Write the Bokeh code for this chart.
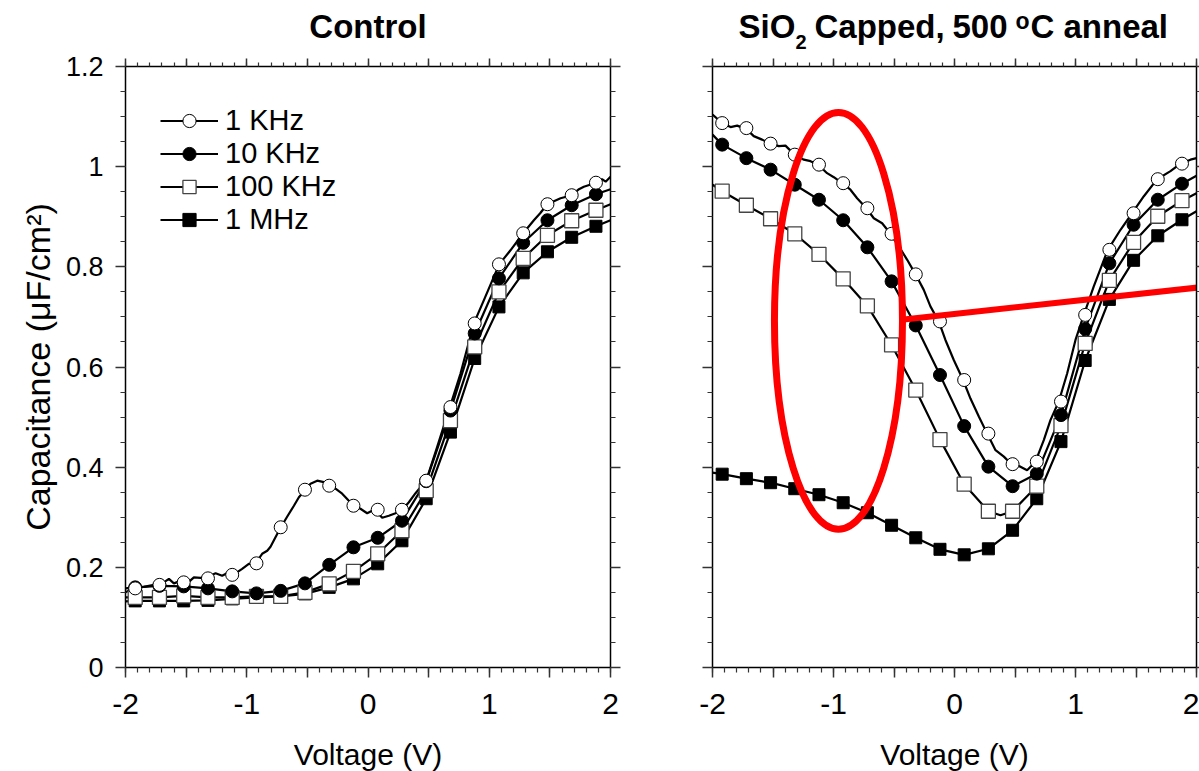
from bokeh.plotting import figure
from bokeh.layouts import row, column
from bokeh.models import LinearAxis, FixedTicker, Range1d, Legend, LegendItem
from bokeh.core.properties import value
from bokeh.embed import file_html
from bokeh.resources import INLINE

FONT = "Liberation Sans"

# ---------------- data ----------------
marker_v = [-1.92, -1.72, -1.52, -1.32, -1.12, -0.92, -0.72, -0.52, -0.32, -0.12,
            0.08, 0.28, 0.48, 0.68, 0.88, 1.08, 1.28, 1.48, 1.68, 1.88]

# Control panel, marker values
ctrl_1k = [0.158, 0.165, 0.170, 0.178, 0.185, 0.208, 0.280, 0.355, 0.363, 0.323,
           0.315, 0.315, 0.373, 0.520, 0.687, 0.805, 0.867, 0.925, 0.943, 0.968]
ctrl_10k = [0.160, 0.163, 0.162, 0.158, 0.152, 0.148, 0.153, 0.168, 0.205, 0.240,
            0.259, 0.293, 0.372, 0.513, 0.667, 0.777, 0.848, 0.893, 0.923, 0.945]
ctrl_100k = [0.140, 0.140, 0.143, 0.140, 0.140, 0.142, 0.142, 0.150, 0.167, 0.192,
             0.227, 0.273, 0.353, 0.493, 0.640, 0.750, 0.817, 0.863, 0.892, 0.913]
ctrl_1m = [0.133, 0.133, 0.133, 0.134, 0.137, 0.140, 0.142, 0.147, 0.160, 0.177,
           0.207, 0.253, 0.337, 0.470, 0.617, 0.720, 0.788, 0.830, 0.859, 0.881]

# Control panel, traced 1 KHz curve (noisy)
ctrl_1k_line_v = [-2.0, -1.931, -1.849, -1.766, -1.725, -1.684, -1.642, -1.601, -1.546, -1.491,
                  -1.436, -1.381, -1.321, -1.257, -1.203, -1.148, -1.093, -1.038, -0.983, -0.928,
                  -0.873, -0.831, -0.804, -0.763, -0.721, -0.667, -0.611, -0.570, -0.524, -0.474,
                  -0.419, -0.364, -0.320, -0.268, -0.213, -0.158, -0.117, -0.062, -0.007, 0.034,
                  0.076, 0.117, 0.172, 0.227, 0.277, 0.337, 0.392, 0.433, 0.483, 0.57,
                  0.675, 0.763, 0.873, 0.955, 1.082, 1.175, 1.28, 1.368, 1.42, 1.478,
                  1.588, 1.681, 1.74, 1.78, 1.882, 1.93, 1.96, 2.0]
ctrl_1k_line_c = [0.150, 0.160, 0.161, 0.165, 0.167, 0.170, 0.177, 0.168, 0.173, 0.168,
                  0.180, 0.179, 0.181, 0.188, 0.183, 0.190, 0.188, 0.197, 0.207, 0.208,
                  0.227, 0.233, 0.241, 0.260, 0.279, 0.301, 0.323, 0.340, 0.353, 0.367,
                  0.373, 0.370, 0.367, 0.357, 0.347, 0.333, 0.323, 0.317, 0.308, 0.313,
                  0.310, 0.299, 0.303, 0.308, 0.313, 0.330, 0.348, 0.360, 0.375, 0.440,
                  0.520, 0.587, 0.687, 0.733, 0.805, 0.833, 0.867, 0.893, 0.907, 0.925,
                  0.937, 0.943, 0.955, 0.960, 0.968, 0.975, 0.970, 0.980]
# Control panel, smooth curves: end values at -2 V and +2 V
ctrl_ends_10k = [0.158, 0.955]
ctrl_ends_100k = [0.140, 0.925]
ctrl_ends_1m = [0.132, 0.893]

# SiO2 capped panel, marker values
cap_1k = [1.087, 1.077, 1.046, 1.024, 1.004, 0.967, 0.917, 0.866, 0.785, 0.691,
          0.574, 0.467, 0.406, 0.411, 0.531, 0.704, 0.834, 0.907, 0.975, 1.006]
cap_10k = [1.044, 1.017, 0.994, 0.964, 0.934, 0.893, 0.839, 0.771, 0.683, 0.584,
           0.482, 0.401, 0.362, 0.387, 0.504, 0.676, 0.807, 0.884, 0.934, 0.966]
cap_100k = [0.951, 0.923, 0.896, 0.866, 0.825, 0.776, 0.722, 0.644, 0.554, 0.455,
            0.366, 0.312, 0.312, 0.362, 0.483, 0.647, 0.773, 0.849, 0.901, 0.932]
cap_1m = [0.386, 0.377, 0.369, 0.357, 0.345, 0.329, 0.309, 0.284, 0.259, 0.236,
          0.225, 0.237, 0.274, 0.337, 0.451, 0.613, 0.735, 0.813, 0.862, 0.894]

cap_1k_line_v = [-2.0, -1.92, -1.851, -1.796, -1.719, -1.659, -1.59, -1.521, -1.452, -1.397,
                 -1.323, -1.245, -1.19, -1.127, -1.053, -0.997, -0.929, -0.86, -0.805, -0.728,
                 -0.667, -0.598, -0.529, -0.46, -0.391, -0.322, -0.254, -0.199, -0.13, -0.075,
                 -0.006, 0.071, 0.132, 0.201, 0.27, 0.339, 0.408, 0.471, 0.545, 0.6,
                 0.669, 0.738, 0.793, 0.862, 0.931, 1.0, 1.069, 1.151, 1.267, 1.372,
                 1.468, 1.565, 1.675, 1.785, 1.868, 1.95, 2.0]
cap_1k_line_c = [1.104, 1.087, 1.079, 1.082, 1.075, 1.061, 1.054, 1.046, 1.041, 1.042,
                 1.024, 1.014, 1.011, 1.004, 0.987, 0.979, 0.967, 0.954, 0.937, 0.917,
                 0.897, 0.887, 0.866, 0.841, 0.814, 0.785, 0.754, 0.721, 0.691, 0.654,
                 0.614, 0.574, 0.537, 0.501, 0.467, 0.434, 0.421, 0.406, 0.401, 0.394,
                 0.411, 0.454, 0.494, 0.531, 0.587, 0.654, 0.704, 0.761, 0.834, 0.874,
                 0.907, 0.941, 0.975, 0.991, 1.006, 1.014, 1.017]
cap_ends_10k = [1.064, 0.982]
cap_ends_100k = [0.964, 0.947]
cap_ends_1m = [0.389, 0.911]
cap_100k_min = [0.38, 0.304]

series_labels = ["1 KHz", "10 KHz", "100 KHz", "1 MHz"]

x_major = [-2.0, -1.5, -1.0, -0.5, 0.0, 0.5, 1.0, 1.5, 2.0]
x_tick_text = ["-2", "", "-1", "", "0", "", "1", "", "2"]
y_major = [0.0, 0.2, 0.4, 0.6, 0.8, 1.0, 1.2]
y_tick_text = ["0", "0.2", "0.4", "0.6", "0.8", "1", "1.2"]
x_minor = [round(-2 + 0.1 * i, 1) for i in range(41)]
y_minor = [round(0.05 * i, 2) for i in range(25)]

x_title = "Voltage (V)"
y_title = "Capacitance (\u03bcF/cm\u00b2)"
left_title = "Control"
# right title pieces: (text, kind) with kind main / sub / sup
right_title = [("SiO", "main"), ("2", "sub"), ("Capped,", "main"), ("500", "main"),
               ("o", "sup"), ("C", "main"), ("anneal", "main")]

# annotation (red) in right panel data coordinates
ellipse_center = (-0.959, 0.692)
ellipse_size = (1.058, 0.832)
pointer_x = [-0.419, 2.1]
pointer_y = [0.695, 0.761]

# ---------------- layout ----------------
W = 1199
TITLE_H = 52          # strip with panel titles
XLAB_H = 33           # strip with x-axis titles
PANEL_H = 771 - TITLE_H - XLAB_H
TOP, BOTTOM = 14, 71  # frame: page y 66 .. 667


def style_axis(ax, ticks, minor, texts, show_labels, tick_out=10, minor_out=5):
    ax.ticker = FixedTicker(ticks=ticks, minor_ticks=minor)
    ax.axis_line_color = "black"
    ax.axis_line_width = 1.5
    ax.major_tick_line_color = "#333333"
    ax.major_tick_line_width = 1.5
    ax.minor_tick_line_color = "#333333"
    ax.minor_tick_line_width = 1.2
    ax.major_tick_out = tick_out
    ax.major_tick_in = 0
    ax.minor_tick_out = minor_out
    ax.minor_tick_in = 0
    ax.major_label_text_font = FONT
    ax.major_label_text_color = "black"
    ax.axis_label_text_font = FONT
    ax.axis_label_text_font_style = "normal"
    ax.axis_label_text_color = "black"
    if show_labels:
        ax.major_label_overrides = {t: s for t, s in zip(ticks, texts)}
    else:
        ax.major_label_overrides = {t: "" for t in ticks}
        ax.major_label_text_font_size = "0px"
        ax.major_label_standoff = 0


def make_fig(width, left, right, show_ylabels, right_tick):
    p = figure(width=width, height=PANEL_H, x_range=Range1d(-2, 2), y_range=Range1d(0, 1.2),
               min_border_left=left, min_border_right=right,
               min_border_top=TOP, min_border_bottom=BOTTOM, title=None,
               output_backend="svg", toolbar_location=None)
    p.grid.visible = False
    p.outline_line_color = None
    p.background_fill_color = "white"
    p.border_fill_color = "white"
    bx = p.below[0]
    style_axis(bx, x_major, x_minor, x_tick_text, True)
    bx.major_label_text_font_size = "30px"
    bx.major_label_standoff = 16
    ly = p.left[0]
    style_axis(ly, y_major, y_minor, y_tick_text, show_ylabels)
    if show_ylabels:
        ly.major_label_text_font_size = "27px"
        ly.major_label_standoff = 12
        ly.axis_label = y_title
        ly.axis_label_text_font_size = "34px"
        ly.axis_label_standoff = 6
    tx = LinearAxis()
    style_axis(tx, x_major, x_minor, x_tick_text, False, 8, 4)
    p.add_layout(tx, "above")
    ry = LinearAxis()
    style_axis(ry, y_major, y_minor, y_tick_text, False, right_tick, min(right_tick, 5))
    p.add_layout(ry, "right")
    return p


p1 = make_fig(660, 125, 50, True, 10)
p2 = make_fig(539, 52, 3, False, 3)


def draw_series(p, l1v, l1c, m1, m10, m100, m1m, e10, e100, e1m, min100=None):
    lx = [-2.0] + marker_v + [2.0]
    l100x = list(lx)
    l100y = [e100[0]] + m100 + [e100[1]]
    if min100 is not None:
        idx = next(i for i, v in enumerate(l100x) if v > min100[0])
        l100x.insert(idx, min100[0])
        l100y.insert(idx, min100[1])
    lw = 2.2
    r_l1m = p.line(lx, [e1m[0]] + m1m + [e1m[1]], line_color="black", line_width=lw)
    r_l100 = p.line(l100x, l100y, line_color="black", line_width=lw)
    r_l10 = p.line(lx, [e10[0]] + m10 + [e10[1]], line_color="black", line_width=lw)
    r_l1 = p.line(l1v, l1c, line_color="black", line_width=lw)
    r_m1m = p.scatter(marker_v, m1m, marker="square", size=12, fill_color="black",
                      line_color="black", line_width=1)
    r_m100 = p.scatter(marker_v, m100, marker="square", size=14, fill_color="white",
                       line_color="#444444", line_width=1.3)
    r_m10 = p.scatter(marker_v, m10, marker="circle", size=13, fill_color="black",
                      line_color="black", line_width=1)
    r_m1 = p.scatter(marker_v, m1, marker="circle", size=13, fill_color="white",
                     line_color="black", line_width=1)
    return [(r_l1, r_m1), (r_l10, r_m10), (r_l100, r_m100), (r_l1m, r_m1m)]


pairs = draw_series(p1, ctrl_1k_line_v, ctrl_1k_line_c, ctrl_1k, ctrl_10k, ctrl_100k, ctrl_1m,
                    ctrl_ends_10k, ctrl_ends_100k, ctrl_ends_1m)
draw_series(p2, cap_1k_line_v, cap_1k_line_c, cap_1k, cap_10k, cap_100k, cap_1m,
            cap_ends_10k, cap_ends_100k, cap_ends_1m, cap_100k_min)

legend = Legend(items=[LegendItem(label=lab, renderers=list(pr)) for lab, pr in zip(series_labels, pairs)],
                location=(35, 431))
legend.glyph_width = 58
legend.glyph_height = 33
legend.label_height = 33
legend.spacing = 0
legend.padding = 0
legend.margin = 0
legend.label_standoff = 7
legend.label_text_font = FONT
legend.label_text_font_size = "29px"
legend.label_text_color = "black"
legend.border_line_color = None
legend.background_fill_alpha = 0
p1.add_layout(legend)

# red annotation
p2.ellipse(x=[ellipse_center[0]], y=[ellipse_center[1]], width=ellipse_size[0], height=ellipse_size[1],
           fill_color=None, line_color="#ff0000", line_width=7)
p2.line(pointer_x, pointer_y, line_color="#ff0000", line_width=6)


def strip(height, y_top):
    # a figure whose data coordinates equal page pixels
    s = figure(width=W, height=height, x_range=Range1d(0, W), y_range=Range1d(y_top + height, y_top),
               min_border=0, min_border_left=0, min_border_right=0, min_border_top=0, min_border_bottom=0,
               title=None, output_backend="svg", toolbar_location=None,
               x_axis_location=None, y_axis_location=None)
    s.grid.visible = False
    s.outline_line_color = None
    s.background_fill_color = "white"
    s.border_fill_color = "white"
    return s


# text is placed by the vertical middle of its capitals (page pixels)
title_strip = strip(TITLE_H, 0)
title_strip.text(x=[367.5], y=[25.5], text=[left_title], text_font=value(FONT), text_font_size=value("33px"),
                 text_font_style="bold", text_align="center", text_baseline="middle", text_color="black")
piece_x = [738, 795, 814, 952, 1015, 1030, 1063]
piece_style = {"main": (25.5, "33px"), "sub": (41.5, "20px"), "sup": (20, "23px")}
for (txt, kind), px in zip(right_title, piece_x):
    py, fs = piece_style[kind]
    title_strip.text(x=[px], y=[py], text=[txt], text_font=value(FONT), text_font_size=value(fs),
                     text_font_style="bold", text_align="left", text_baseline="middle",
                     text_color="black")

xlab_strip = strip(XLAB_H, 771 - XLAB_H)
xlab_strip.text(x=[367.5, 954], y=[753.5, 753.5], text=[x_title, x_title], text_font=value(FONT),
                text_font_size=value("30px"), text_align="center", text_baseline="middle",
                text_color="black")

layout = column(title_strip, row(p1, p2), xlab_strip)
open("out.html", "w").write(file_html(layout, INLINE))
